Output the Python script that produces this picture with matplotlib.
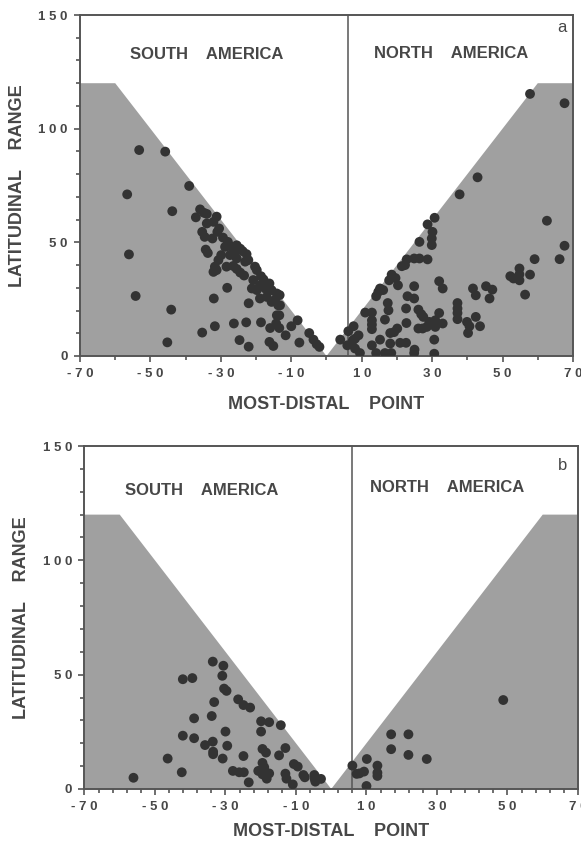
import matplotlib.pyplot as plt
from matplotlib.patches import Polygon
import numpy as np

# panel a: most-distal point vs latitudinal range
a_x = [-53.2, -45.8, -39.0, -56.6, -43.8, -56.1, -54.2, -44.1, -45.2, -35.3, -31.7, -32.0, -28.2,
       -26.3, -24.7, -22.1, -22.8, -22.1, -18.6, -16.2, -15.1, -16.0, -14.3, -14.1, -13.4, -13.4,
       -11.6, -10.0, -8.2, -7.7, -13.2,
       -35.9, -34.8, -34.0, -37.1, -31.2, -32.1, -34.0, -30.5, -31.0, -35.3, -34.6, -32.4, -28.0,
       -29.4, -27.4, -28.8, -25.5, -24.5, -23.8, -26.1, -34.3, -33.7, -29.9, -27.4, -25.5, -22.7,
       -22.2, -23.1, -30.7, -31.7, -31.2, -32.1, -28.4, -26.5, -25.5, -24.5, -23.4, -20.3, -19.8,
       -18.6, -20.8, -17.9, -18.9, -21.2, -19.8, -17.4, -16.2, -15.6, -14.1, -13.3, -17.0, -18.9,
       -14.6, -15.6, -13.7, -4.9, -3.7, -2.8, -2.0,
       3.9, 6.2, 7.7, 5.9, 7.5, 8.1, 9.1, 8.1, 9.5, 11.0, 12.9, 12.9, 12.9, 12.9, 12.9, 14.1, 15.2,
       16.6, 17.4, 17.6, 18.1, 18.1, 18.4, 16.6, 19.2, 20.1, 20.9, 22.6, 22.6, 22.7, 23.0, 24.9,
       24.9, 25.0, 24.9, 26.1, 26.9, 27.5, 28.5, 29.2, 26.1, 27.3, 30.9, 30.9, 32.0, 33.0, 30.6,
       30.6, 32.0, 33.0, 24.9, 26.4, 28.7, 22.8, 22.3, 21.4, 26.4, 28.7, 30.7, 30.1, 29.9, 29.9,
       18.5, 17.8, 19.6, 20.3, 15.2, 14.7, 14.1, 16.1, 37.8, 37.2, 37.2, 37.2, 37.2, 39.9, 40.6,
       40.2, 41.6, 42.4, 42.4, 43.6, 45.3, 47.1, 46.3, 52.2, 53.1, 54.8, 54.8, 54.8, 57.8, 56.4,
       59.1, 62.6, 66.2, 67.6, 57.8, 67.6, 42.9]
a_y = [90.6, 89.9, 74.8, 71.1, 63.7, 44.7, 26.4, 20.4, 6.0, 10.3, 13.1, 25.3, 30.0,
       14.3, 7.0, 4.1, 14.8, 23.2, 14.8, 6.2, 4.4, 12.3, 14.3, 17.9, 17.9, 12.3,
       9.1, 13.1, 15.7, 5.9, 22.3,
       64.5, 63.0, 62.5, 61.0, 61.3, 59.0, 58.3, 56.1, 54.6, 54.6, 52.4, 51.7, 50.2,
       52.1, 48.3, 48.0, 48.7, 47.2, 46.1, 45.7, 46.8, 45.3, 44.4, 44.4, 42.9, 44.8,
       42.2, 41.5, 42.2, 39.3, 37.8, 37.0, 39.3, 39.6, 38.3, 36.7, 35.4, 39.3, 37.8,
       35.1, 33.4, 33.7, 31.1, 29.7, 29.0, 29.7, 31.9, 29.0, 27.5, 26.8, 26.0, 25.3,
       24.8, 23.8, 22.3, 10.1, 7.2, 5.2, 4.0,
       7.2, 10.9, 13.1, 4.7, 6.9, 7.6, 9.1, 3.3, 1.3, 19.1, 19.1, 15.7, 13.8, 11.8, 4.7, 1.3, 7.2,
       16.0, 23.3, 20.1, 10.1, 5.5, 1.3, 1.3, 10.5, 12.1, 5.8, 5.8, 20.9, 14.5, 26.3, 25.3,
       30.7, 2.8, 1.3, 20.4, 18.4, 17.2, 12.8, 15.0, 12.1, 12.1, 15.7, 12.8, 18.9, 14.3, 7.2,
       1.0, 32.9, 29.7, 42.9, 42.9, 42.5, 42.5, 40.0, 39.5, 50.2, 57.9, 60.8, 54.6, 51.7, 48.8,
       35.8, 33.3, 34.3, 31.1, 29.7, 28.2, 26.3, 29.0, 71.1, 23.3, 20.9, 18.9, 16.2, 15.0, 13.1,
       10.1, 29.7, 26.7, 17.2, 13.1, 30.7, 29.2, 25.3, 35.1, 34.1, 38.5, 35.9, 33.3, 35.8, 27.0,
       42.6, 59.5, 42.6, 48.5, 115.3, 111.2, 78.6]

# panel b
b_x = [-56.1, -46.4, -42.4, -42.1, -42.1, -39.4, -38.9, -38.9, -35.8, -33.9, -33.2, -33.6, -33.6,
       -33.5, -33.5, -30.8, -30.6, -30.9, -30.4, -29.7, -30.0, -29.5, -27.9, -26.1, -24.8, -24.9,
       -26.4, -24.9, -23.0, -23.4, -19.9, -17.6, -19.9, -19.5, -18.5, -20.7, -19.5, -19.0, -18.8,
       -18.3, -18.3, -19.5, -17.6, -14.3, -14.8, -13.0, -13.0, -12.7, -10.9, -10.6, -9.5, -7.9,
       -7.5, -4.8, -4.7, -4.5, -2.9,
       6.0, 7.2, 8.0, 9.3, 10.1, 10.0, 13.1, 13.1, 13.1, 17.0, 17.0, 21.9, 21.9, 27.1, 48.8]
b_y = [4.9, 13.3, 7.3, 23.3, 48.0, 48.5, 30.9, 22.2, 19.2, 31.9, 38.0, 55.7, 20.7,
       16.3, 15.2, 13.3, 53.9, 49.5, 43.9, 42.9, 25.1, 18.9, 7.9, 7.3, 7.3, 14.4,
       39.2, 36.7, 35.6, 2.9, 29.6, 29.2, 25.1, 17.5, 15.9, 7.9, 11.4, 9.5, 7.4,
       6.4, 4.5, 6.4, 6.8, 27.9, 14.7, 17.9, 6.7, 4.5, 2.0, 10.9, 9.8, 6.1,
       5.1, 6.1, 4.4, 3.2, 4.4,
       10.2, 6.6, 6.8, 7.6, 13.1, 1.3, 10.2, 7.1, 5.7, 23.9, 17.4, 23.9, 14.9, 13.1, 38.9]

# envelope of possible ranges (range <= 2*|point|, capped at 120)
env_x = [-70, -70, -60, 0, 60, 70, 70]
env_y = [0, 120, 120, 0, 120, 120, 0]

x_major = [-70, -50, -30, -10, 10, 30, 50, 70]
y_major = [0, 50, 100, 150]

plt.rcParams['font.family'] = ['Liberation Sans', 'DejaVu Sans']
txt = '#474747'
edge = '#555555'

fig = plt.figure(figsize=(5.81, 8.43), dpi=100)
ax_a = fig.add_axes([0.1377, 0.5777, 0.8485, 0.4045])
ax_b = fig.add_axes([0.1454, 0.0641, 0.8494, 0.4068])


def spaced(v):
    return ' '.join(str(v))


def panel(ax, xs, ys, letter, minor_step, sa_pos, na_pos, let_pos, xpad):
    ax.add_patch(Polygon(list(zip(env_x, env_y)), closed=True, facecolor='#a0a0a0',
                         edgecolor='none', zorder=0))
    ax.axvline(6, color=edge, lw=1.1, zorder=1)
    ax.scatter(xs, ys, s=50, color='#333333', edgecolor='none', zorder=3)
    ax.set_xlim(-70, 70)
    ax.set_ylim(0, 150)
    ax.set_xticks(x_major)
    ax.set_xticklabels([spaced(v) for v in x_major])
    ax.set_xticks(np.arange(-70, 71, minor_step), minor=True)
    ax.set_yticks(y_major)
    ax.set_yticklabels([spaced(v) for v in y_major])
    ax.set_yticks(np.arange(0, 151, 10), minor=True)
    ax.tick_params(which='both', direction='out', color=edge, width=1.2, labelcolor=txt)
    ax.tick_params(which='major', length=4, labelsize=9.5, pad=5)
    ax.tick_params(which='minor', length=3)
    for lab in ax.get_xticklabels() + ax.get_yticklabels():
        lab.set_fontweight('bold')
    for sp in ax.spines.values():
        sp.set_color(edge)
        sp.set_linewidth(1.4)
    ax.set_xlabel('MOST-DISTAL    POINT', fontsize=13, fontweight='bold', color=txt,
                  labelpad=xpad)
    ax.set_ylabel('LATITUDINAL    RANGE', fontsize=13, fontweight='bold', color=txt,
                  labelpad=9)
    ax.text(sa_pos[0], sa_pos[1], 'SOUTH    AMERICA', ha='center', va='center',
            fontsize=12, fontweight='bold', color=txt)
    ax.text(na_pos[0], na_pos[1], 'NORTH    AMERICA', ha='center', va='center',
            fontsize=12, fontweight='bold', color=txt)
    ax.text(let_pos[0], let_pos[1], letter, ha='center', va='center', fontsize=12, color=txt)


panel(ax_a, a_x, a_y, 'a', 10, (-34, 132.5), (35.4, 133), (67, 144.5), 11)
panel(ax_b, b_x, b_y, 'b', 4, (-36.7, 130.7), (32.8, 132), (65.7, 141.7), 7)

fig.savefig('out.png', dpi=100)
